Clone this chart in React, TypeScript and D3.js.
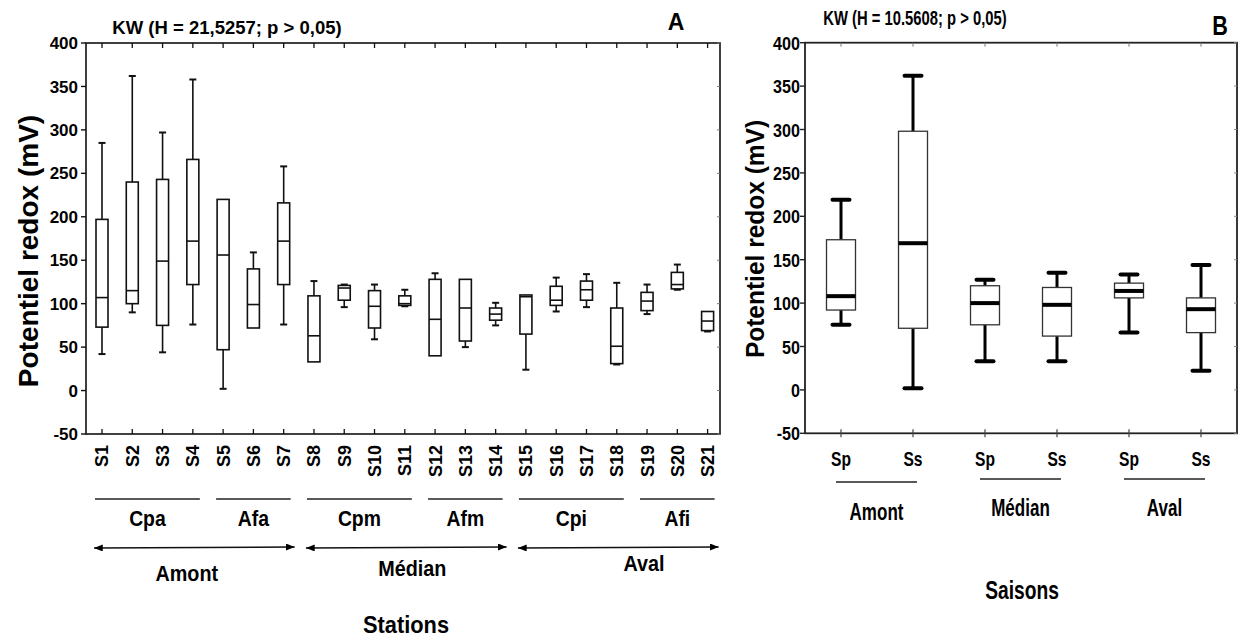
import React from "react";
import * as d3 from "d3";

// ---------- Panel A data (Stations) ----------
const stations = ["S1","S2","S3","S4","S5","S6","S7","S8","S9","S10","S11","S12","S13","S14","S15","S16","S17","S18","S19","S20","S21"];
const stMin = [42, 90, 44, 76, 2, 72, 76, 33, 96, 59, 97, 40, 50, 75, 24, 91, 96, 30, 88, 116, 68];
const stQ1  = [73, 100, 75, 122, 47, 72, 122, 33, 104, 72, 98, 40, 57, 81, 65, 98, 104, 31, 92, 117, 69];
const stMed = [107, 115, 149, 172, 156, 99, 172, 63, 118, 97, 100, 82, 95, 88, 108, 104, 116, 51, 103, 122, 80];
const stQ3  = [197, 240, 243, 266, 220, 140, 216, 109, 121, 115, 109, 128, 128, 95, 110, 120, 126, 95, 113, 136, 91];
const stMax = [285, 362, 297, 358, 220, 159, 258, 126, 122, 122, 116, 135, 128, 101, 110, 130, 134, 124, 122, 145, 91];

const stationGroups = ["Cpa", "Afa", "Cpm", "Afm", "Cpi", "Afi"];
const stationGroupFirst = [0, 4, 7, 11, 14, 18];
const stationGroupLast = [3, 6, 10, 13, 17, 20];

const zones = ["Amont", "Médian", "Aval"];
const zoneFirst = [0, 7, 14];
const zoneLast = [6, 13, 20];
const zoneLabelIdx = [2.8, 10.25, 17.9];

const yTickValues = [-50, 0, 50, 100, 150, 200, 250, 300, 350, 400];

// ---------- Panel B data (Saisons) ----------
const seasonKeys = ["Amont-Sp", "Amont-Ss", "Médian-Sp", "Médian-Ss", "Aval-Sp", "Aval-Ss"];
const seasonLabels = ["Sp", "Ss", "Sp", "Ss", "Sp", "Ss"];
const seMin = [75, 2, 33, 33, 66, 22];
const seQ1  = [92, 71, 75, 62, 106, 66];
const seMed = [108, 169, 100, 98, 114, 93];
const seQ3  = [173, 298, 120, 118, 123, 106];
const seMax = [219, 362, 127, 135, 133, 144];
const seasonZones = ["Amont", "Médian", "Aval"];

const FONT = "'Liberation Sans', Arial, Helvetica, sans-serif";

function CText({ x, y, size, sx = 1, anchor = "middle", rotate = 0, children }: any) {
  return (
    <text
      transform={`translate(${x},${y})${rotate ? ` rotate(${rotate})` : ""} scale(${sx},1)`}
      fontSize={size}
      fontWeight="bold"
      fontFamily={FONT}
      textAnchor={anchor}
      fill="#000"
    >
      {children}
    </text>
  );
}

export default function App() {
  const W = 1238, H = 640;

  // ---- Panel A geometry ----
  const aL = 86, aR = 720, aT = 43, aB = 434;
  const xA = d3.scalePoint<string>().domain(stations).range([102, 707.6]);
  const xAi = d3.scaleLinear().domain([0, 20]).range([102, 707.6]);
  const yA = d3.scaleLinear().domain([-50, 400]).range([aB, aT]);
  const boxWA = 12, capWA = 7;

  // ---- Panel B geometry ----
  const bL = 805, bR = 1237, bT = 42.7, bB = 433.3;
  const xB = d3.scalePoint<string>().domain(seasonKeys).range([bL, bR]).padding(0.5);
  const yB = d3.scaleLinear().domain([-50, 400]).range([bB, bT]);
  const boxWB = 29, capWB = 17;

  return (
    <svg width={W} height={H} style={{ position: "absolute", left: 0, top: 0, background: "#fff" }}>
      <defs>
        <marker id="arr" viewBox="0 0 10 8" refX="10" refY="4" markerWidth="9" markerHeight="7"
          markerUnits="userSpaceOnUse" orient="auto-start-reverse">
          <path d="M0,0 L10,4 L0,8 z" fill="#000" />
        </marker>
      </defs>
      <rect width={W} height={H} fill="#fff" />

      {/* ================= PANEL A ================= */}
      <g>
        <text x={227} y={34} fontSize={18.5} fontWeight="bold" fontFamily={FONT} textAnchor="middle">
          KW (H = 21,5257; p &gt; 0,05)
        </text>
        <text x={676} y={30} fontSize={23} fontWeight="bold" fontFamily={FONT} textAnchor="middle">A</text>

        <rect x={aL} y={aT} width={aR - aL} height={aB - aT} fill="none" stroke="#111" strokeWidth={1.6} />

        {yTickValues.map((v) => (
          <g key={"ya" + v}>
            <line x1={aL - 5} x2={aL} y1={yA(v)} y2={yA(v)} stroke="#111" strokeWidth={1.4} />
            <line x1={aR - 3} x2={aR} y1={yA(v)} y2={yA(v)} stroke="#777" strokeWidth={1} />
            <text x={78} y={yA(v)} dy="0.36em" fontSize={17} fontWeight="bold" fontFamily={FONT} textAnchor="end">
              {v}
            </text>
          </g>
        ))}

        {stations.map((s) => (
          <g key={"xa" + s}>
            <line x1={xA(s)} x2={xA(s)} y1={aB} y2={aB - 5} stroke="#111" strokeWidth={1.3} />
            <line x1={xA(s)} x2={xA(s)} y1={aT} y2={aT + 5} stroke="#111" strokeWidth={1.3} />
            <text
              transform={`translate(${xA(s)},${445}) rotate(-90)`}
              dy="0.36em"
              fontSize={18}
              fontWeight="bold"
              fontFamily={FONT}
              textAnchor="end"
            >
              {s}
            </text>
          </g>
        ))}

        {stations.map((s, i) => {
          const cx = xA(s)!;
          return (
            <g key={"ba" + s} stroke="#111" strokeWidth={1.6} fill="none">
              {stMax[i] > stQ3[i] && (
                <>
                  <line x1={cx} x2={cx} y1={yA(stQ3[i])} y2={yA(stMax[i])} />
                  <line x1={cx - capWA / 2} x2={cx + capWA / 2} y1={yA(stMax[i])} y2={yA(stMax[i])} strokeWidth={2} />
                </>
              )}
              {stMin[i] < stQ1[i] && (
                <>
                  <line x1={cx} x2={cx} y1={yA(stQ1[i])} y2={yA(stMin[i])} />
                  <line x1={cx - capWA / 2} x2={cx + capWA / 2} y1={yA(stMin[i])} y2={yA(stMin[i])} strokeWidth={2} />
                </>
              )}
              <rect x={cx - boxWA / 2} y={yA(stQ3[i])} width={boxWA} height={yA(stQ1[i]) - yA(stQ3[i])} fill="#fff" />
              <line x1={cx - boxWA / 2} x2={cx + boxWA / 2} y1={yA(stMed[i])} y2={yA(stMed[i])} />
            </g>
          );
        })}

        {stationGroups.map((g, i) => {
          const x1 = xAi(stationGroupFirst[i]) - 7;
          const x2 = xAi(stationGroupLast[i]) + 7;
          return (
            <g key={"ga" + g}>
              <line x1={x1} x2={x2} y1={499} y2={499} stroke="#222" strokeWidth={1.6} />
              <CText x={(x1 + x2) / 2} y={526} size={22} sx={0.88}>{g}</CText>
            </g>
          );
        })}

        {zones.map((z, i) => {
          const x1 = xAi(zoneFirst[i]) - 8;
          const x2 = xAi(zoneLast[i]) + 11;
          return (
            <g key={"za" + z}>
              <line x1={x1} x2={x2} y1={548} y2={547} stroke="#111" strokeWidth={1.6}
                markerStart="url(#arr)" markerEnd="url(#arr)" />
              <CText x={xAi(zoneLabelIdx[i])} y={581 - i * 5} size={22} sx={0.9}>{z}</CText>
            </g>
          );
        })}

        <CText x={406} y={633} size={23} sx={0.95}>Stations</CText>

        <text transform={`translate(38,251) rotate(-90)`} fontSize={28} fontWeight="bold" fontFamily={FONT} textAnchor="middle">
          Potentiel redox (mV)
        </text>
      </g>

      {/* ================= PANEL B ================= */}
      <g>
        <CText x={915} y={25} size={20} sx={0.74}>KW (H = 10.5608; p &gt; 0,05)</CText>
        <CText x={1220} y={35} size={27} sx={0.8}>B</CText>

        <rect x={bL} y={bT} width={bR - bL} height={bB - bT} fill="none" stroke="#222" strokeWidth={1.8} />

        {yTickValues.map((v) => (
          <g key={"yb" + v}>
            <line x1={bL - 5} x2={bL} y1={yB(v)} y2={yB(v)} stroke="#222" strokeWidth={1.4} />
            <line x1={bR - 3} x2={bR} y1={yB(v)} y2={yB(v)} stroke="#888" strokeWidth={1} />
            <CText x={800} y={yB(v) + 7} size={19} sx={0.85} anchor="end">{v}</CText>
          </g>
        ))}

        {seasonKeys.map((k, i) => {
          const cx = xB(k)!;
          return (
            <g key={"xb" + k}>
              <line x1={cx} x2={cx} y1={bB - 4} y2={bB + 4} stroke="#444" strokeWidth={1.2} />
              <line x1={cx} x2={cx} y1={bT} y2={bT + 4} stroke="#777" strokeWidth={1} />
              <CText x={cx} y={466} size={20} sx={0.78}>{seasonLabels[i]}</CText>
            </g>
          );
        })}

        {seasonKeys.map((k, i) => {
          const cx = xB(k)!;
          return (
            <g key={"bb" + k}>
              <line x1={cx} x2={cx} y1={yB(seQ3[i])} y2={yB(seMax[i])} stroke="#000" strokeWidth={3} />
              <line x1={cx - capWB / 2} x2={cx + capWB / 2} y1={yB(seMax[i])} y2={yB(seMax[i])} stroke="#000" strokeWidth={4} strokeLinecap="round" />
              <line x1={cx} x2={cx} y1={yB(seQ1[i])} y2={yB(seMin[i])} stroke="#000" strokeWidth={3} />
              <line x1={cx - capWB / 2} x2={cx + capWB / 2} y1={yB(seMin[i])} y2={yB(seMin[i])} stroke="#000" strokeWidth={4} strokeLinecap="round" />
              <rect x={cx - boxWB / 2} y={yB(seQ3[i])} width={boxWB} height={yB(seQ1[i]) - yB(seQ3[i])}
                fill="#fff" stroke="#333" strokeWidth={1.3} />
              <line x1={cx - boxWB / 2} x2={cx + boxWB / 2} y1={yB(seMed[i])} y2={yB(seMed[i])} stroke="#000" strokeWidth={4} />
            </g>
          );
        })}

        {seasonZones.map((z, i) => {
          const x1 = xB(seasonKeys[i * 2])! - 5;
          const x2 = xB(seasonKeys[i * 2 + 1])! + 4;
          return (
            <g key={"zb" + z}>
              <line x1={x1} x2={x2} y1={i === 0 ? 482 : 479} y2={i === 0 ? 482 : 479} stroke="#222" strokeWidth={1.6} />
              <CText x={(x1 + x2) / 2} y={i === 0 ? 520 : 516} size={23} sx={0.74}>{z}</CText>
            </g>
          );
        })}

        <CText x={1022} y={599} size={26} sx={0.74}>Saisons</CText>

        <CText x={764} y={239} size={25} sx={0.98} rotate={-90}>Potentiel redox (mV)</CText>
      </g>
    </svg>
  );
}
